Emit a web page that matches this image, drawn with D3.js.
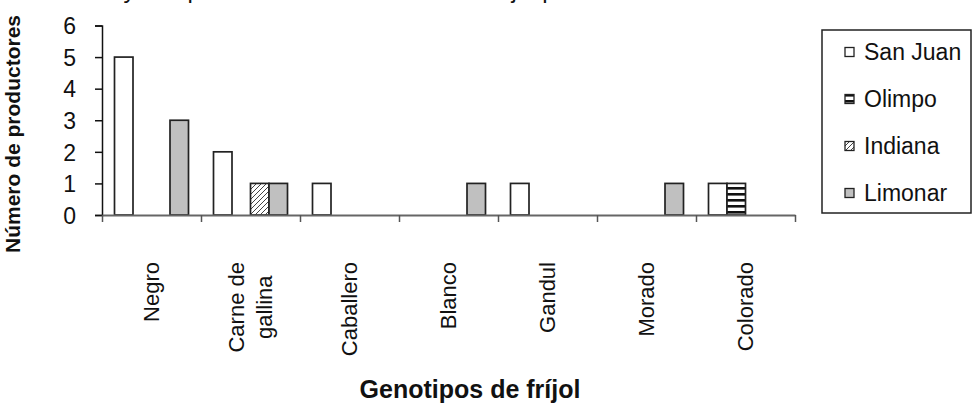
<!DOCTYPE html>
<html>
<head>
<meta charset="utf-8">
<script src="https://cdn.jsdelivr.net/npm/d3@7"></script>
<style>
  body { margin: 0; background: #fff; }
  text { font-family: "Liberation Sans", Arial, sans-serif; fill: #111; }
</style>
</head>
<body>
<div id="chart"></div>
<script>
var categories = ['Negro', 'Carne de gallina', 'Caballero', 'Blanco', 'Gandul', 'Morado', 'Colorado']
var series = ['San Juan', 'Olimpo', 'Indiana', 'Limonar']
var sanJuan = [5, 2, 1, 0, 1, 0, 1]
var olimpo = [0, 0, 0, 0, 0, 0, 1]
var indiana = [0, 1, 0, 0, 0, 0, 0]
var limonar = [3, 1, 0, 1, 0, 1, 0]
var yTicks = [0, 1, 2, 3, 4, 5, 6]
var labelLines = { 'Carne de gallina': ['Carne de', 'gallina'] }

var width = 973
var height = 403

var svg = d3
  .select('#chart')
  .append('svg')
  .attr('width', width)
  .attr('height', height)
  .style('display', 'block')

// patterns for Olimpo (horizontal stripes) and Indiana (diagonal hatch)
var defs = svg.append('defs')
var stripes = defs
  .append('pattern')
  .attr('id', 'stripes')
  .attr('patternUnits', 'userSpaceOnUse')
  .attr('width', 6)
  .attr('height', 6)
  .attr('y', 1)
stripes.append('rect').attr('width', 6).attr('height', 6).attr('fill', '#fff')
stripes.append('rect').attr('width', 6).attr('height', 2.6).attr('fill', '#111')

var hatch = defs
  .append('pattern')
  .attr('id', 'hatch')
  .attr('patternUnits', 'userSpaceOnUse')
  .attr('width', 5)
  .attr('height', 5)
hatch.append('rect').attr('width', 5).attr('height', 5).attr('fill', '#fff')
hatch
  .append('path')
  .attr('d', 'M-1,1 l2,-2 M0,5 l5,-5 M4,6 l2,-2')
  .attr('stroke', '#444')
  .attr('stroke-width', 1)

var fills = {
  'San Juan': '#fff',
  Olimpo: 'url(#stripes)',
  Indiana: 'url(#hatch)',
  Limonar: '#c0c0c0'
}
var valuesBySeries = { 'San Juan': sanJuan, Olimpo: olimpo, Indiana: indiana, Limonar: limonar }

// title, cut off at the top edge in the source image
svg
  .append('text')
  .attr('x', 18)
  .attr('y', -2)
  .attr('font-size', 24)
  .text('Situación y composición de la diversidad de fríjol por comunidades')

var x = d3.scaleBand().domain(categories).range([102, 795])
var xEdges = d3.scaleLinear().domain([0, categories.length]).range([102, 795])
var xSeries = d3
  .scaleBand()
  .domain(series)
  .range([12.5, x.bandwidth() - 12.5])
var y = d3.scaleLinear().domain([0, 6]).range([215, 25.5])

// bars
var rows = []
categories.forEach(function(c, i) {
  series.forEach(function(s) {
    var v = valuesBySeries[s][i]
    if (v > 0) rows.push({ cat: c, series: s, value: v })
  })
})

svg
  .append('g')
  .selectAll('rect')
  .data(rows)
  .enter()
  .append('rect')
  .attr('x', d => x(d.cat) + xSeries(d.series))
  .attr('y', d => y(d.value))
  .attr('width', xSeries.bandwidth())
  .attr('height', d => y(0) - y(d.value))
  .attr('fill', d => fills[d.series])
  .attr('stroke', '#222')
  .attr('stroke-width', 1.7)

// y axis
var yAxis = svg
  .append('g')
  .attr('transform', 'translate(102,0)')
  .call(
    d3
      .axisLeft(y)
      .tickValues(yTicks)
      .tickFormat(d3.format('d'))
      .tickSize(7)
      .tickPadding(19)
  )
yAxis.select('.domain').attr('stroke', '#111').attr('stroke-width', 1.5)
yAxis.selectAll('.tick line').attr('stroke', '#111').attr('stroke-width', 1.5)
yAxis
  .selectAll('.tick text')
  .attr('font-size', 23)
  .attr('font-family', '"Liberation Sans", Arial, sans-serif')
  .attr('fill', '#111')
  .attr('dy', '0.36em')

// x axis: ticks at category edges
var xAxis = svg
  .append('g')
  .attr('transform', 'translate(0,215)')
  .call(
    d3
      .axisBottom(xEdges)
      .tickValues(d3.range(categories.length + 1))
      .tickSize(7)
      .tickSizeOuter(0)
      .tickFormat('')
  )
xAxis.select('.domain').attr('stroke', '#666').attr('stroke-width', 2)
xAxis.selectAll('.tick line').attr('stroke', '#555').attr('stroke-width', 1.5)

// rotated category labels
var labelTop = 262
var labelSize = 22
var labels = svg
  .append('g')
  .selectAll('g')
  .data(categories)
  .enter()
  .append('g')
  .attr('transform', d => 'translate(' + (x(d) + x.bandwidth() / 2) + ',' + labelTop + ') rotate(-90)')

labels.each(function(d) {
  var g = d3.select(this)
  var lines = labelLines[d] || [d]
  var n = lines.length
  var texts = lines.map(function(line, i) {
    return g
      .append('text')
      .attr('font-size', labelSize)
      .attr('y', (i - (n - 1) / 2) * 28)
      .attr('dy', '0.36em')
      .text(line)
  })
  var maxLen = d3.max(texts, t => t.node().getComputedTextLength())
  texts.forEach(function(t) {
    t.attr('text-anchor', 'middle').attr('x', -maxLen / 2)
  })
})

// axis titles
svg
  .append('text')
  .attr('transform', 'translate(20,134) rotate(-90)')
  .attr('text-anchor', 'middle')
  .attr('font-size', 21)
  .attr('font-weight', 'bold')
  .text('Número de productores')

svg
  .append('text')
  .attr('x', 470)
  .attr('y', 398)
  .attr('text-anchor', 'middle')
  .attr('font-size', 25)
  .attr('font-weight', 'bold')
  .text('Genotipos de fríjol')

// legend
var legend = svg.append('g')
legend
  .append('rect')
  .attr('x', 822)
  .attr('y', 30)
  .attr('width', 149)
  .attr('height', 183)
  .attr('fill', '#fff')
  .attr('stroke', '#222')
  .attr('stroke-width', 1.5)

var legendY = d3
  .scalePoint()
  .domain(series)
  .range([52, 193])

var items = legend
  .selectAll('.item')
  .data(series)
  .enter()
  .append('g')
  .attr('class', 'item')
  .attr('transform', d => 'translate(845,' + legendY(d) + ')')

items
  .append('rect')
  .attr('x', 0)
  .attr('y', -4.5)
  .attr('width', 9)
  .attr('height', 9)
  .attr('fill', d => fills[d])
  .attr('stroke', '#222')
  .attr('stroke-width', 1.3)

items
  .append('text')
  .attr('x', 19)
  .attr('dy', '0.36em')
  .attr('font-size', 23)
  .text(d => d)
</script>
</body>
</html>
